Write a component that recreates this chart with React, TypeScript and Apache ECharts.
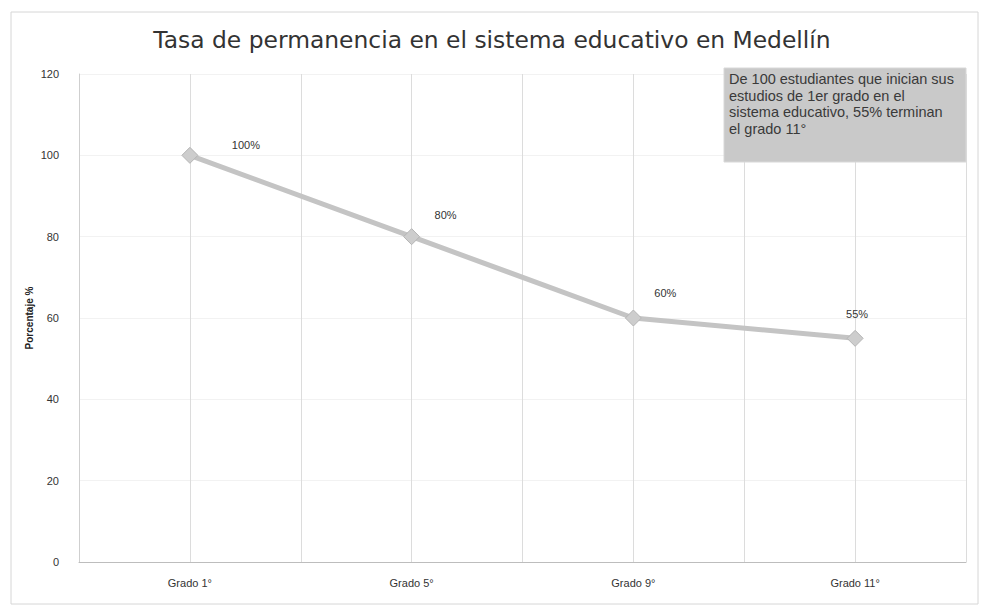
import React, { useEffect, useRef } from "react";
import * as echarts from "echarts";

const categories = ["Grado 1°", "Grado 5°", "Grado 9°", "Grado 11°"];
const values = [100, 80, 60, 55];
const valueLabels = ["100%", "80%", "60%", "55%"];
const titleText = "Tasa de permanencia en el sistema educativo en Medellín";
const yAxisName = "Porcentaje %";
const noteLines = [
  "De 100 estudiantes que inician sus",
  "estudios de 1er grado en el",
  "sistema educativo, 55% terminan",
  "el grado 11°",
];

export default function App() {
  const ref = useRef<HTMLDivElement>(null);
  useEffect(() => {
    if (!ref.current) return;
    const chart = echarts.init(ref.current, null, { renderer: "svg" });
    const labelOffsets = [
      [56, 9],
      [34, -3],
      [32, -6],
      [2, -5],
    ];
    const labelStyle = {
      fontFamily: "Liberation Sans, Arial, sans-serif",
      fontSize: 11,
      color: "#333333",
    };
    chart.setOption({
      animation: false,
      backgroundColor: "#ffffff",
      title: {
        text: titleText,
        left: "center",
        top: 23,
        textStyle: {
          fontFamily: "DejaVu Sans, Verdana, sans-serif",
          fontSize: 23.4,
          fontWeight: "normal",
          color: "#333333",
        },
      },
      grid: { left: 79, right: 18, top: 74, bottom: 49 },
      xAxis: {
        type: "category",
        data: categories,
        boundaryGap: true,
        axisLine: { show: true, lineStyle: { color: "#bdbdbd", width: 1 } },
        axisTick: { show: false },
        axisLabel: {
          margin: 15,
          fontFamily: "Liberation Sans, Arial, sans-serif",
          fontSize: 11,
          color: "#333333",
        },
        splitLine: { show: true, lineStyle: { color: "#dcdcdc", width: 1 } },
      },
      yAxis: {
        type: "value",
        min: 0,
        max: 120,
        interval: 20,
        name: yAxisName,
        nameLocation: "middle",
        nameGap: 45,
        nameMoveOverlap: false,
        nameTextStyle: {
          fontFamily: "Liberation Sans, Arial, sans-serif",
          fontSize: 10,
          fontWeight: "bold",
          color: "#222222",
        },
        axisLine: { show: true, lineStyle: { color: "#cfcfcf", width: 1 } },
        axisTick: { show: false },
        axisLabel: {
          margin: 20,
          fontFamily: "Liberation Sans, Arial, sans-serif",
          fontSize: 11,
          color: "#333333",
        },
        splitLine: { show: true, lineStyle: { color: "#f2f2f2", width: 1 } },
      },
      series: [
        {
          type: "line",
          data: values.map((v, i) => ({
            value: v,
            label: {
              show: true,
              formatter: valueLabels[i],
              position: "top",
              offset: labelOffsets[i],
              ...labelStyle,
            },
          })),
          symbol: "diamond",
          symbolSize: 16,
          lineStyle: { color: "#c4c4c4", width: 5 },
          itemStyle: { color: "#cdcdcd", borderColor: "#b5b5b5", borderWidth: 1 },
          label: labelStyle,
          markLine: {
            silent: true,
            symbol: "none",
            label: { show: false },
            lineStyle: { color: "#dcdcdc", width: 1, type: "solid" },
            data: categories.map((c) => ({ xAxis: c })),
            z: 1,
          },
          z: 3,
        },
      ],
      graphic: [
        {
          type: "rect",
          shape: { x: 11, y: 12, width: 967, height: 592 },
          style: { fill: "none", stroke: "#d6d6d6", lineWidth: 1 },
          silent: true,
        },
        {
          type: "rect",
          shape: { x: 724, y: 68, width: 242, height: 94 },
          style: { fill: "#c9c9c9", stroke: "#d8d8d8", lineWidth: 1 },
          z: 10,
        },
        {
          type: "text",
          x: 729,
          y: 71,
          z: 11,
          style: {
            text: noteLines.join("\n"),
            fontFamily: "Liberation Sans, Arial, sans-serif",
            fontSize: 14.5,
            lineHeight: 16.5,
            fill: "#3a3a3a",
          },
        },
      ],
    });
    return () => chart.dispose();
  }, []);
  return (
    <div
      ref={ref}
      style={{ position: "fixed", left: 0, top: 0, width: 984, height: 611 }}
    />
  );
}
